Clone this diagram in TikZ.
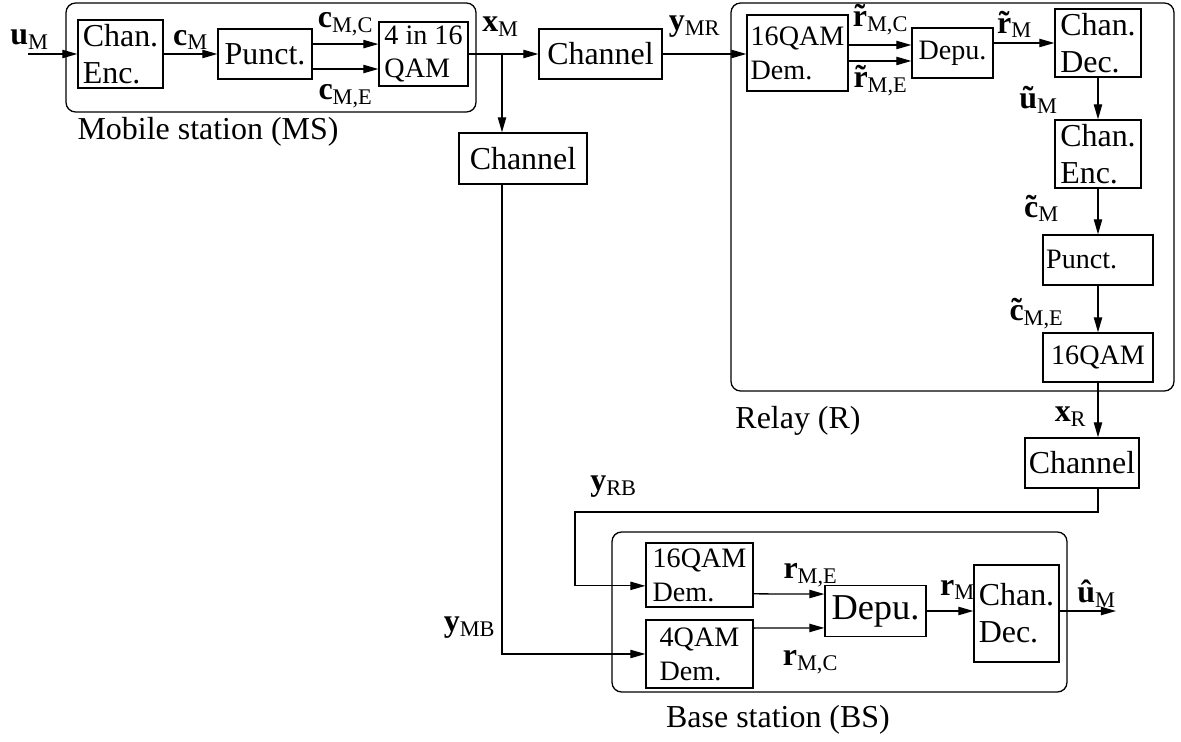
\documentclass[tikz,border=0pt]{standalone}
\usepackage{fontspec}
\setmainfont{Liberation Serif}
\usetikzlibrary{arrows.meta}
\newcommand{\sg}[2]{\textbf{#1}\textsubscript{#2}}
\newcommand{\tildeb}[1]{\ooalign{#1\cr\hidewidth\char"02DC\hidewidth\cr}}

\begin{document}
\begin{tikzpicture}[x=0.11cm, y=0.11cm,
    block/.style={rectangle, draw, inner sep=1pt, align=left, font=\fontsize{10}{11.5}\selectfont},
    sblock/.style={block, font=\fontsize{8.8}{10.6}\selectfont},
    lbl/.style={inner sep=0pt, font=\fontsize{10}{12}\selectfont},
    group/.style={rounded corners=3pt},
    arr/.style={-{Triangle[length=4.7pt, width=2.6pt]}}]
    \useasboundingbox (0,0) rectangle (118.1,-74.2);

    % station frames
    \draw[group] (6.6,-0.3) rectangle (47.6,-11.2);
    \draw[group] (73.1,-0.3) rectangle (117.4,-39.1);
    \draw[group] (61.2,-53.2) rectangle (106.7,-69.2);
    \node[lbl] (msname) at (20.8,-13.2) {Mobile station (MS)};
    \node[lbl] (rname) at (79.8,-42.1) {Relay (R)};
    \node[lbl] (bsname) at (77.8,-72.0) {Base station (BS)};

    % mobile station
    \node[block, minimum width=0.935cm, minimum height=0.748cm] (msenc) at (12.05,-5.4) {Chan.\\Enc.};
    \node[block, minimum width=1.034cm, minimum height=0.55cm] (mspunct) at (26.5,-5.4) {Punct.};
    \node[sblock, minimum width=0.979cm, minimum height=0.704cm] (msqam) at (42.35,-5.4) {4 in 16\\QAM};

    % channels
    \node[block, minimum width=1.353cm, minimum height=0.55cm] (ch1) at (60.05,-5.4) {Channel};
    \node[block, minimum width=1.408cm, minimum height=0.561cm] (ch2) at (52.3,-15.85) {Channel};
    \node[block, minimum width=1.254cm, minimum height=0.55cm] (ch3) at (108.2,-46.3) {Channel};

    % relay
    \node[sblock, minimum width=1.111cm, minimum height=0.836cm] (rdem) at (79.75,-5.3) {16QAM\\Dem.};
    \node[sblock, minimum width=0.891cm, minimum height=0.55cm] (rdepu) at (95.25,-5.3) {Depu.};
    \node[block, minimum width=0.946cm, minimum height=0.748cm] (rdec) at (109.8,-4.3) {Chan.\\Dec.};
    \node[block, minimum width=0.946cm, minimum height=0.748cm] (renc) at (109.8,-15.4) {Chan.\\Enc.};
    \node[sblock, text width=1.14cm, minimum height=0.55cm] (rpunct) at (109.8,-26.0) {Punct.};
    \node[sblock, minimum width=1.21cm, minimum height=0.539cm] (rqam) at (109.8,-35.75) {16QAM};

    % base station
    \node[sblock, minimum width=1.177cm, minimum height=0.704cm] (bsdem16) at (69.95,-57.5) {16QAM\\Dem.};
    \node[sblock, minimum width=1.177cm, minimum height=0.748cm] (bsdem4) at (69.95,-65.4) {4QAM\\Dem.};
    \node[block, minimum width=1.111cm, minimum height=0.561cm, font=\fontsize{11.4}{13}\selectfont] (bsdepu) at (87.55,-61.1) {Depu.};
    \node[block, minimum width=0.935cm, minimum height=1.067cm] (bsdec) at (101.65,-61.35) {Chan.\\Dec.};

    \coordinate (uin) at (2.8,-5.4);
    \coordinate (br) at (50.2,-5.4);
    \coordinate (rb) at (57.5,-51.2);
    \coordinate (uout) at (111.6,-61.1);

    % connectors
    \draw[arr] (uin) -- (msenc.west);
    \draw[arr] (msenc) -- (mspunct);
    \draw[arr] ([yshift=3.1pt]mspunct.east) -- ([yshift=3.1pt]msqam.west);
    \draw[arr] ([yshift=-4.7pt]mspunct.east) -- ([yshift=-4.7pt]msqam.west);
    \draw[arr] (msqam) -- (ch1);
    \draw[arr] (br) -- (br |- ch2.north);
    \draw[arr] (br |- ch2.south) |- (bsdem4.west);
    \draw[arr] (ch1.east) -- (ch1.east -| rdem.west);
    \draw[arr] ([yshift=2.5pt]rdem.east) -- ([yshift=2.5pt]rdepu.west);
    \draw[arr] ([yshift=-2.5pt]rdem.east) -- ([yshift=-2.5pt]rdepu.west);
    \draw[arr] (rdepu.east |- rdec.west) -- (rdec.west);
    \draw[arr] (rdec) -- (renc);
    \draw[arr] (renc) -- (rpunct);
    \draw[arr] (rpunct) -- (rqam);
    \draw[arr] (rqam.south) -- (rqam.south |- ch3.north);
    \draw[arr] (rqam.south |- ch3.south) |- (rb) |- ([yshift=-3.4pt]bsdem16.west);
    \draw[arr] ([yshift=-5.9pt]bsdem16.east) -- ([yshift=5.3pt]bsdepu.west);
    \draw[arr] ([yshift=8.1pt]bsdem4.east) -- ([yshift=-5.3pt]bsdepu.west);
    \draw[arr] (bsdepu.east) -- (bsdepu.east -| bsdec.west);
    \draw[arr] (bsdec.east |- uout) -- (uout);

    % signal labels
    \node[lbl] (luin) at (3.0,-4.0) {\sg{u}{M}};
    \node[lbl] (lcm) at (19.1,-4.0) {\sg{c}{M}};
    \node[lbl] (lcmc) at (34.6,-2.4) {\sg{c}{M,C}};
    \node[lbl] (lcme) at (34.6,-9.6) {\sg{c}{M,E}};
    \node[lbl] (lxm) at (50.1,-2.7) {\sg{x}{M}};
    \node[lbl] (lymr) at (69.5,-2.7) {\sg{y}{MR}};
    \node[lbl] (lrmc) at (88.1,-2.3) {\sg{\tildeb{r}}{M,C}};
    \node[lbl] (lrme) at (88.1,-8.4) {\sg{\tildeb{r}}{M,E}};
    \node[lbl] (lrm) at (101.5,-2.8) {\sg{\tildeb{r}}{M}};
    \node[lbl] (lum) at (103.9,-10.0) {\sg{\~{u}}{M}};
    \node[lbl] (lctm) at (104.2,-21.2) {\sg{\tildeb{c}}{M}};
    \node[lbl] (lctme) at (103.7,-31.7) {\sg{\tildeb{c}}{M,E}};
    \node[lbl] (lxr) at (107.1,-41.7) {\sg{x}{R}};
    \node[lbl] (lyrb) at (61.4,-48.7) {\sg{y}{RB}};
    \node[lbl] (lymb) at (47.0,-62.8) {\sg{y}{MB}};
    \node[lbl] (lbme) at (81.1,-57.5) {\sg{r}{M,E}};
    \node[lbl] (lbmc) at (81.1,-66.2) {\sg{r}{M,C}};
    \node[lbl] (lbm) at (95.8,-59.0) {\sg{r}{M}};
    \node[lbl] (luout) at (109.7,-59.4) {\sg{\^{u}}{M}};
\end{tikzpicture}
\end{document}
